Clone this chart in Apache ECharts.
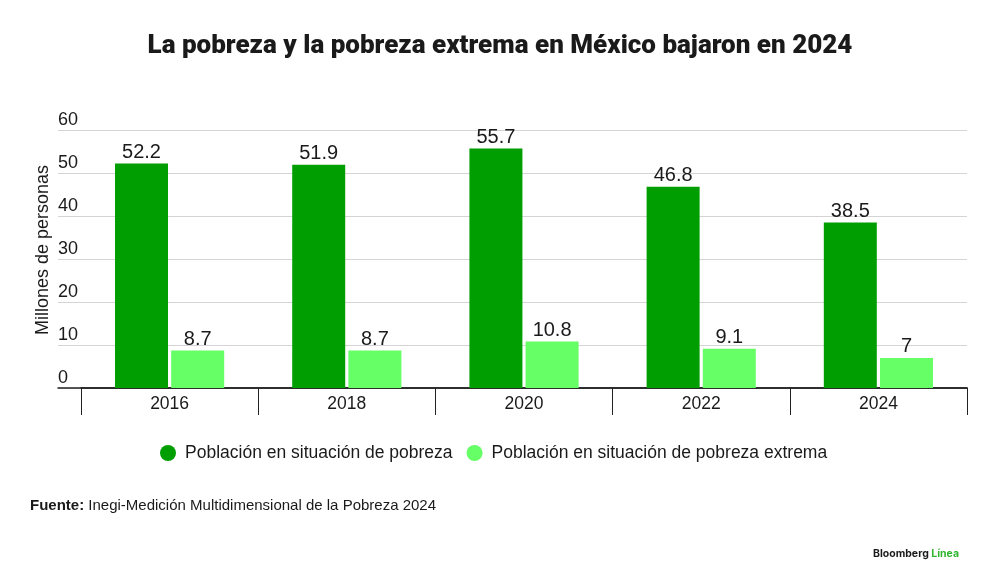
<!DOCTYPE html>
<html>
<head>
<meta charset="utf-8">
<script src="https://cdn.jsdelivr.net/npm/echarts@6/dist/echarts.min.js"></script>
<style>
  html, body { margin: 0; padding: 0; background: #fff; }
  #main { width: 1000px; height: 583px; }
</style>
</head>
<body>
<div id="main"></div>
<script>
// datos
const years = ['2016', '2018', '2020', '2022', '2024'];
const pobreza = [52.2, 51.9, 55.7, 46.8, 38.5];
const pobrezaExtrema = [8.7, 8.7, 10.8, 9.1, 7];
const yTicks = [0, 10, 20, 30, 40, 50, 60];

const dark = '#009e00';
const light = '#66ff66';
const txt = '#1a1a1a';
const font = '"Liberation Sans", Arial, sans-serif';

const chart = echarts.init(document.getElementById('main'));

const option = {
  backgroundColor: '#fff',
  textStyle: { fontFamily: font },
  title: [{
    text: 'La pobreza y la pobreza extrema en México bajaron en 2024',
    left: 'center',
    top: 28,
    textStyle: { fontFamily: 'Roboto', fontWeight: 900, fontSize: 26, color: txt }
  }, {
    text: '{b|Fuente:} Inegi-Medición Multidimensional de la Pobreza 2024',
    left: 30,
    top: 498,
    padding: 0,
    textStyle: {
      fontFamily: font, fontSize: 15, fontWeight: 'normal', color: txt,
      rich: {
        b: { fontFamily: font, fontSize: 15, fontWeight: 'bold', color: txt }
      }
    }
  }, {
    text: 'Bloomberg {g|Línea}',
    left: 873,
    top: 548,
    padding: 0,
    textStyle: {
      fontFamily: 'Inter', fontSize: 10.5, fontWeight: 'bold', color: txt,
      rich: {
        g: { fontFamily: 'Inter', fontSize: 10.5, fontWeight: 'bold', color: '#2fb52f' }
      }
    }
  }],
  legend: {
    top: 439,
    left: 155,
    icon: 'circle',
    itemWidth: 16,
    itemHeight: 16,
    itemGap: 14,
    textStyle: { fontFamily: font, fontSize: 17.5, color: txt, padding: [0, 0, 0, 4] },
    data: ['Población en situación de pobreza', 'Población en situación de pobreza extrema']
  },
  grid: [
    { left: 58, right: 33, top: 130, bottom: 195 },
    { left: 81, right: 33, top: 130, bottom: 195 }
  ],
  xAxis: [{
    type: 'value',
    gridIndex: 0,
    axisLine: { show: true, lineStyle: { color: '#222', width: 1.5 } },
    axisTick: { show: false },
    axisLabel: { show: false },
    splitLine: { show: false }
  }, {
    type: 'category',
    gridIndex: 1,
    data: years,
    axisLine: { lineStyle: { color: '#222', width: 1.5 } },
    axisTick: { show: true, length: 27, lineStyle: { color: '#222', width: 1 } },
    axisLabel: { fontFamily: font, fontSize: 17.5, color: txt, margin: 7 }
  }],
  yAxis: [{
    type: 'value',
    gridIndex: 0,
    min: yTicks[0],
    max: yTicks[yTicks.length - 1],
    interval: 10,
    name: 'Millones de personas',
    nameLocation: 'middle',
    nameMoveOverlap: false,
    nameGap: 6,
    nameTextStyle: { fontFamily: font, fontSize: 18, color: txt, padding: [0, 0, 0, 18] },
    axisLine: { show: false },
    axisTick: { show: false },
    axisLabel: {
      inside: true,
      margin: 0,
      verticalAlign: 'bottom',
      padding: [0, 0, 1, 0],
      fontFamily: font,
      fontSize: 18,
      color: txt
    },
    splitLine: { lineStyle: { color: '#d4d4d4', width: 1 } }
  }, {
    type: 'value',
    gridIndex: 1,
    min: yTicks[0],
    max: yTicks[yTicks.length - 1],
    interval: 10,
    show: false,
    splitLine: { show: false }
  }],
  series: [{
    name: 'Población en situación de pobreza',
    type: 'bar',
    xAxisIndex: 1,
    yAxisIndex: 1,
    data: pobreza,
    barWidth: 53,
    barGap: '6%',
    itemStyle: { color: dark },
    label: { show: true, position: 'top', distance: 1, fontFamily: font, fontSize: 20, color: txt }
  }, {
    name: 'Población en situación de pobreza extrema',
    type: 'bar',
    xAxisIndex: 1,
    yAxisIndex: 1,
    data: pobrezaExtrema,
    barWidth: 53,
    itemStyle: { color: light },
    label: { show: true, position: 'top', distance: 1, fontFamily: font, fontSize: 20, color: txt }
  }]
};

chart.setOption(option);
</script>
</body>
</html>
